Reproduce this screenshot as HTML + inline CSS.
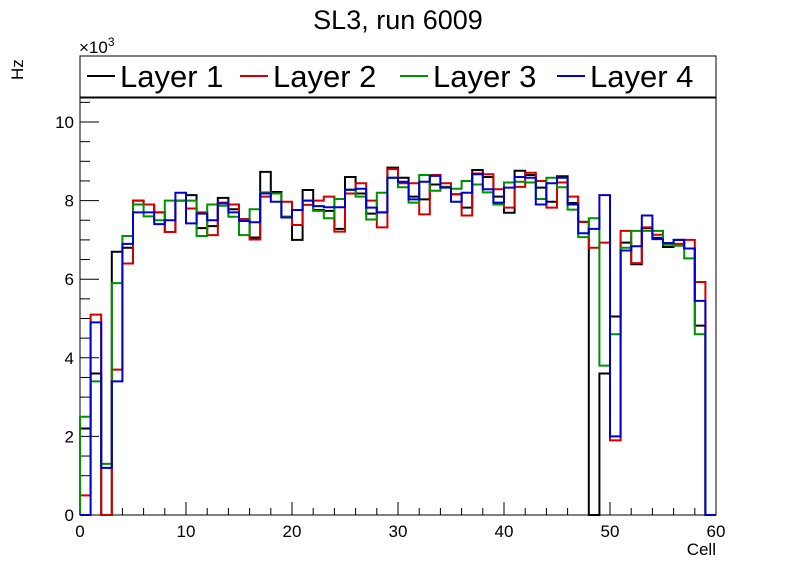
<!DOCTYPE html>
<html><head><meta charset="utf-8"><style>
body{margin:0;background:#fff;font-family:"Liberation Sans",sans-serif}
</style></head><body>
<svg id="c" width="796" height="572" xmlns="http://www.w3.org/2000/svg" style="font-family:'Liberation Sans',sans-serif">
<rect width="796" height="572" fill="#fff"/>
<text x="398" y="29" font-size="27" text-anchor="middle">SL3, run 6009</text>
<text transform="translate(23,80) rotate(-90)" font-size="17">Hz</text>
<text x="79" y="53" font-size="17">×10<tspan dy="-7" font-size="12">3</tspan></text>
<text x="716" y="555" font-size="17" text-anchor="end">Cell</text>
<g id="legend">
<rect x="80" y="56" width="636" height="42" fill="#fff" stroke="#000" stroke-width="1"/>
</g>
<g id="plot"></g>
</svg>
<script>
const categories = Array.from({length:60},(_,i)=>i);
const layer1 = [2.2,3.6,0,6.7,6.8,8.0,7.9,7.7,7.2,8.0,8.14,7.3,7.35,8.07,7.78,7.53,7.06,8.73,8.22,7.59,7.0,8.27,7.76,7.74,7.28,8.6,8.18,7.67,7.7,8.84,8.58,8.1,8.03,8.41,8.35,8.16,7.82,8.78,8.6,8.1,7.69,8.76,8.65,8.33,7.97,8.62,7.94,7.46,0,3.6,5.05,6.93,6.38,7.3,7.05,6.82,7.0,6.78,4.82,0];
const layer2 = [0.5,5.1,0,3.7,6.4,8.0,7.9,7.7,7.2,8.0,7.8,7.7,7.12,7.95,7.9,7.53,7.01,8.1,8.18,7.97,7.38,7.89,8.0,8.1,7.21,8.18,8.44,8.0,7.32,8.8,8.44,8.44,7.65,8.65,8.44,8.16,7.62,8.69,8.67,8.29,7.82,8.35,8.71,8.5,7.82,8.46,8.1,7.46,6.8,6.93,1.9,7.23,6.41,7.32,7.13,6.88,6.9,7.0,5.93,0];
const layer3 = [2.5,3.4,1.3,5.9,7.1,7.9,7.6,7.5,8.0,8.0,8.0,7.1,7.9,7.87,7.59,7.12,7.78,8.21,8.18,7.59,7.76,8.0,7.74,7.55,8.04,8.27,8.1,7.52,8.2,8.58,8.34,7.95,8.65,8.25,8.34,8.3,8.5,8.41,8.21,7.9,8.46,8.48,8.46,8.04,8.58,8.34,7.77,7.07,7.55,3.8,4.6,6.8,7.23,7.23,7.23,6.9,6.85,6.53,4.6,0];
const layer4 = [0,4.9,1.2,3.4,6.9,7.7,7.7,7.4,7.5,8.2,7.42,7.67,7.5,7.93,7.7,7.48,7.45,8.18,7.97,7.57,7.76,8.0,7.86,7.83,7.83,8.28,8.3,7.82,7.7,8.58,8.48,8.03,8.48,8.63,8.33,7.97,8.2,8.67,8.29,7.95,8.33,8.6,8.58,7.9,8.44,8.58,7.9,7.17,7.28,8.14,2.0,6.73,6.84,7.62,7.02,6.92,7.0,6.78,5.45,0];
const seriesNames = ["Layer 1","Layer 2","Layer 3","Layer 4"];
const yTicks = [0,2,4,6,8,10];
const xTicks = [0,10,20,30,40,50,60];

const NS="http://www.w3.org/2000/svg";
const X0=80,X1=716,Y0=515,YT=97;
const xs=v=>X0+(v/60)*(X1-X0);
const ys=v=>Y0-v*39.3;
const plot=document.getElementById('plot');
function mk(tag,at,parent){const e=document.createElementNS(NS,tag);for(const k in at)e.setAttribute(k,at[k]);(parent||plot).appendChild(e);return e;}
const fr=mk('rect',{x:X0,y:YT,width:X1-X0,height:Y0-YT,fill:'none',stroke:'#000','stroke-width':1});


for(let v=0;v<=10.5;v+=0.5){const major=Math.abs(v%2)<1e-9;
 const t=mk('line',{x1:X0,x2:X0+(major?19:10),y1:ys(v),y2:ys(v),stroke:'#000','stroke-width':1});
 
 }
yTicks.forEach(v=>{const t=mk('text',{x:X0-6,y:ys(v)+6,'font-size':17,'text-anchor':'end'});t.textContent=v;
 
 });
for(let v=0;v<=60;v+=2){const major=v%10===0;
 const t=mk('line',{x1:xs(v),x2:xs(v),y1:Y0,y2:Y0-(major?13:7),stroke:'#000','stroke-width':1});
 
 }
xTicks.forEach(v=>{const t=mk('text',{x:xs(v),y:Y0+22,'font-size':17,'text-anchor':'middle'});t.textContent=v;
 
 });
const colors=['#000','#d00000','#009000','#0000d0'];
[layer1,layer2,layer3,layer4].forEach((arr,si)=>{
 let d=`M${xs(0)},${ys(0)}`;
 categories.forEach((c,i)=>{d+=` L${xs(c)},${ys(arr[i])} L${xs(c+1)},${ys(arr[i])}`;});
 d+=` L${xs(60)},${ys(0)}`;
 const p=mk('path',{d:d,fill:'none',stroke:colors[si],'stroke-width':2});
 
 
});
const lg=document.getElementById('legend');
const lx=[87,240,400,557];
seriesNames.forEach((n,i)=>{
 const g=mk('g',{},lg);
 
 
 mk('line',{x1:lx[i],x2:lx[i]+28,y1:76,y2:76,stroke:colors[i],'stroke-width':2},g);
 const t=mk('text',{x:lx[i]+33,y:87,'font-size':31},g);t.textContent=n;
});
</script>
</body></html>
